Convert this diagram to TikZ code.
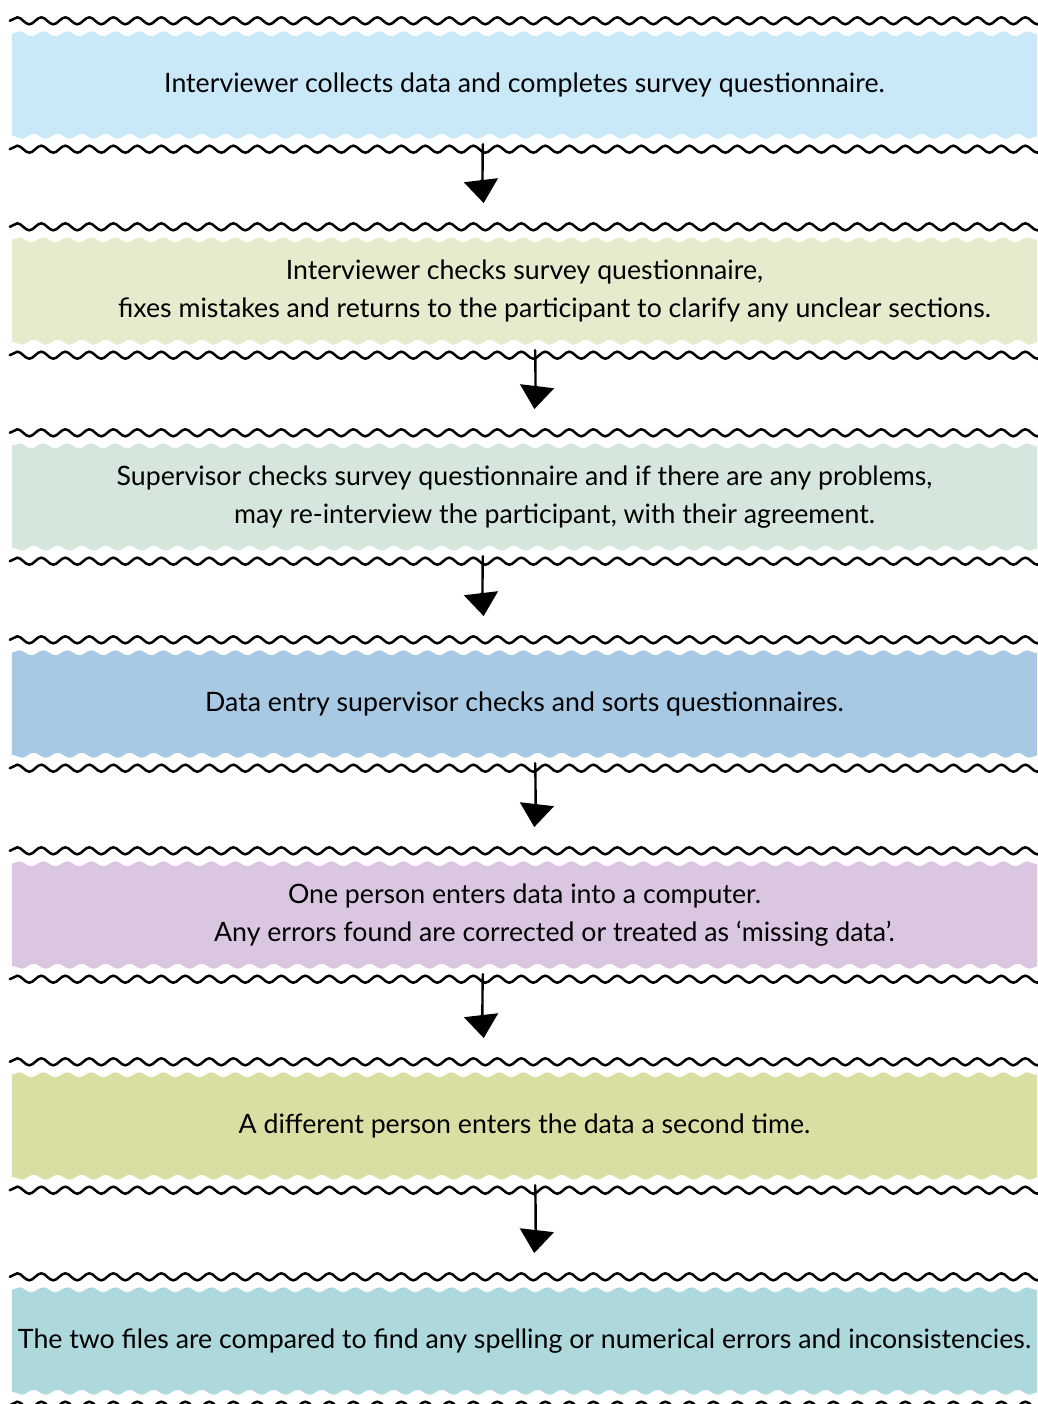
\documentclass[tikz,border=0pt]{standalone}
\usepackage{fontspec}
\setmainfont{Lato}
\usetikzlibrary{arrows.meta,positioning,decorations.pathmorphing,backgrounds}
\definecolor{bandA}{HTML}{C9E9F9}
\definecolor{bandB}{HTML}{E8EACE}
\definecolor{bandC}{HTML}{D5E7DD}
\definecolor{bandD}{HTML}{A7C9E4}
\definecolor{bandE}{HTML}{DAC6E1}
\definecolor{bandF}{HTML}{D9DFA3}
\definecolor{bandG}{HTML}{ADD9DD}
\tikzset{
    band/.style={rectangle, minimum width=1025pt, minimum height=102pt, inner sep=0pt, align=center, font=\fontsize{26.7}{38}\selectfont},
    wavy/.style={decorate, decoration={snake, segment length=24pt, amplitude=3.5pt}},
    rim/.style={draw=black, line width=2.5pt, line cap=round, wavy},
    flow/.style={line width=2.4pt, line cap=round, -{Triangle[width=34pt,length=23pt]}, shorten <=8pt, shorten >=37pt}
}
\newcommand{\indentline}{\hspace*{60pt}}

\begin{document}
\begin{tikzpicture}[x=1pt,y=-1pt]
    \useasboundingbox (0,0) rectangle (1037,1404);
    % stages
    \node[band] (s1) at (524.5,85) {Interviewer collects data and completes survey questionnaire.};
    \node[band] (s2) at (524.5,291) {Interviewer checks survey questionnaire,\\\indentline fixes mistakes and returns to the participant to clarify any unclear sections.};
    \node[band] (s3) at (524.5,497) {Supervisor checks survey questionnaire and if there are any problems,\\\indentline may re-interview the participant, with their agreement.};
    \node[band] (s4) at (524.5,704) {Data entry supervisor checks and sorts questionnaires.};
    \node[band] (s5) at (524.5,915) {One person enters data into a computer.\\\indentline Any errors found are corrected or treated as ‘missing data’.};
    \node[band] (s6) at (524.5,1126) {A different person enters the data a second time.};
    \node[band] (s7) at (524.5,1341) {The two files are compared to find any spelling or numerical errors and inconsistencies.};
    % wavy backdrops
    \begin{scope}[on background layer]
        \foreach \s/\c in {s1/bandA,s2/bandB,s3/bandC,s4/bandD,s5/bandE,s6/bandF,s7/bandG}{
            \fill[\c, decoration={snake, segment length=24pt, amplitude=2.5pt}]
                (\s.north west) decorate {-- (\s.north east)} -- (\s.south east)
                decorate {-- (\s.south west)} -- cycle;
            \draw[rim] ([xshift=-2pt,yshift=13pt]\s.north west) -- ([xshift=10pt,yshift=13pt]\s.north east);
            \draw[rim] ([xshift=-2pt,yshift=-13pt]\s.south west) -- ([xshift=10pt,yshift=-13pt]\s.south east);
        }
    \end{scope}
    % arrows
    \draw[flow] ([xshift=-41.5pt]s1.south) to[bend right=4] ([xshift=-36.5pt]s2.north);
    \draw[flow] ([xshift=10.5pt]s2.south) to[bend left=4] ([xshift=5.5pt]s3.north);
    \draw[flow] ([xshift=-41.5pt]s3.south) to[bend right=4] ([xshift=-36.5pt]s4.north);
    \draw[flow] ([xshift=10.5pt]s4.south) to[bend left=4] ([xshift=5.5pt]s5.north);
    \draw[flow] ([xshift=-41.5pt]s5.south) to[bend right=4] ([xshift=-36.5pt]s6.north);
    \draw[flow] ([xshift=10.5pt]s6.south) to[bend left=4] ([xshift=5.5pt]s7.north);
\end{tikzpicture}
\end{document}
